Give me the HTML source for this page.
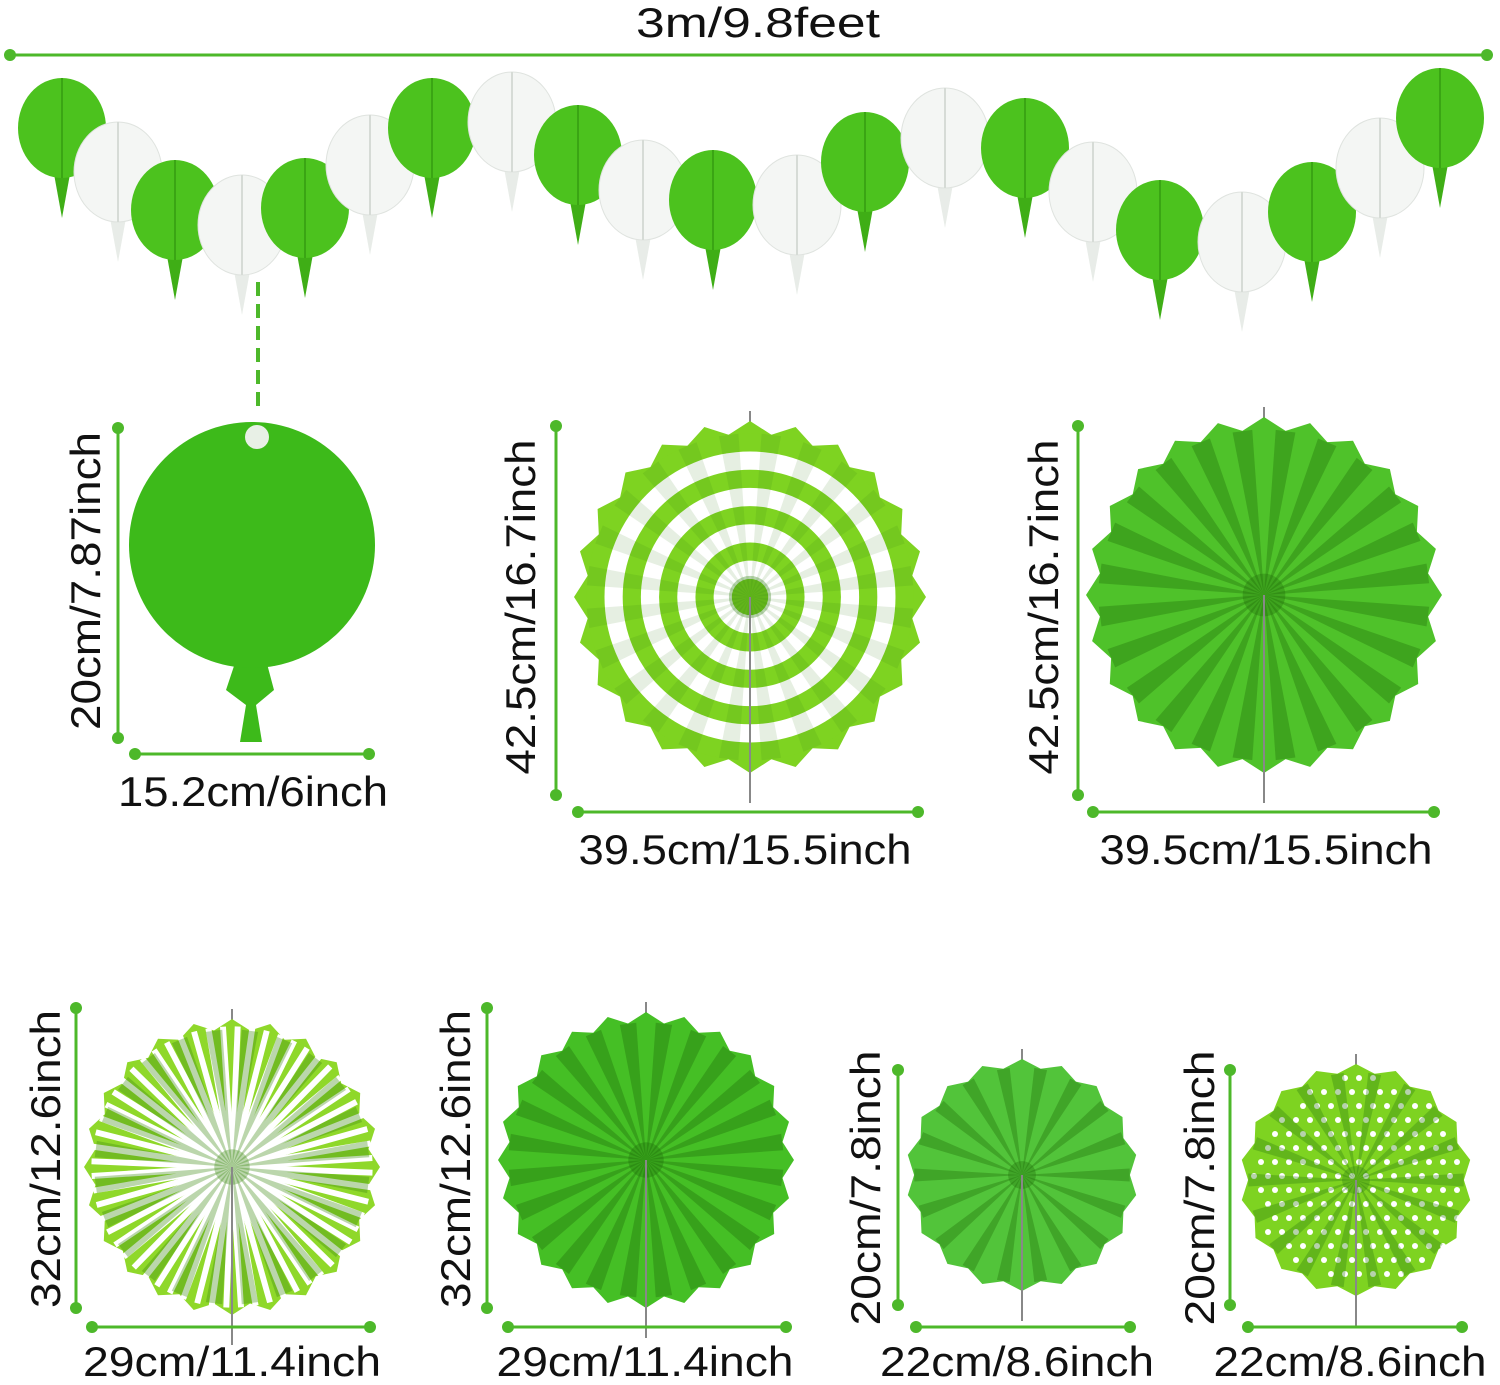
<!DOCTYPE html>
<html><head><meta charset="utf-8">
<style>
html,body{margin:0;padding:0;background:#fff;}
svg{display:block;}
text{font-family:"Liberation Sans","DejaVu Sans",sans-serif;fill:#111;font-size:42px;}
</style></head>
<body>
<svg id="s" width="1500" height="1385" viewBox="0 0 1500 1385" xmlns="http://www.w3.org/2000/svg">
<g id="g"></g>
<text x="758" y="37" text-anchor="middle" textLength="244" lengthAdjust="spacingAndGlyphs">3m/9.8feet</text>
<text x="253" y="806" text-anchor="middle" textLength="270" lengthAdjust="spacingAndGlyphs">15.2cm/6inch</text>
<text x="745" y="864" text-anchor="middle" textLength="333" lengthAdjust="spacingAndGlyphs">39.5cm/15.5inch</text>
<text x="1266" y="864" text-anchor="middle" textLength="333" lengthAdjust="spacingAndGlyphs">39.5cm/15.5inch</text>
<text x="232" y="1376" text-anchor="middle" textLength="298" lengthAdjust="spacingAndGlyphs">29cm/11.4inch</text>
<text x="645" y="1376" text-anchor="middle" textLength="297" lengthAdjust="spacingAndGlyphs">29cm/11.4inch</text>
<text x="1017" y="1376" text-anchor="middle" textLength="274" lengthAdjust="spacingAndGlyphs">22cm/8.6inch</text>
<text x="1350" y="1376" text-anchor="middle" textLength="273" lengthAdjust="spacingAndGlyphs">22cm/8.6inch</text>
<text transform="translate(100,581) rotate(-90)" text-anchor="middle" textLength="298" lengthAdjust="spacingAndGlyphs">20cm/7.87inch</text>
<text transform="translate(535,607) rotate(-90)" text-anchor="middle" textLength="335" lengthAdjust="spacingAndGlyphs">42.5cm/16.7inch</text>
<text transform="translate(1058,607) rotate(-90)" text-anchor="middle" textLength="335" lengthAdjust="spacingAndGlyphs">42.5cm/16.7inch</text>
<text transform="translate(60,1159) rotate(-90)" text-anchor="middle" textLength="298" lengthAdjust="spacingAndGlyphs">32cm/12.6inch</text>
<text transform="translate(470,1159) rotate(-90)" text-anchor="middle" textLength="298" lengthAdjust="spacingAndGlyphs">32cm/12.6inch</text>
<text transform="translate(880,1188) rotate(-90)" text-anchor="middle" textLength="275" lengthAdjust="spacingAndGlyphs">20cm/7.8inch</text>
<text transform="translate(1214,1188) rotate(-90)" text-anchor="middle" textLength="275" lengthAdjust="spacingAndGlyphs">20cm/7.8inch</text>
</svg>
<script>
const g=document.getElementById('g');const NS='http://www.w3.org/2000/svg';
function el(t,a){const e=document.createElementNS(NS,t);for(const k in a)e.setAttribute(k,a[k]);g.appendChild(e);return e;}
const LC='#4db82a';
function hl(x1,x2,y){el('line',{x1,x2,y1:y,y2:y,stroke:LC,'stroke-width':3});el('circle',{cx:x1,cy:y,r:6,fill:LC});el('circle',{cx:x2,cy:y,r:6,fill:LC});}
function vl(x,y1,y2){el('line',{x1:x,x2:x,y1,y2,stroke:LC,'stroke-width':3});el('circle',{cx:x,cy:y1,r:6,fill:LC});el('circle',{cx:x,cy:y2,r:6,fill:LC});}
hl(10,1487,55);
const G='#4cc21e',W='#f4f6f4';
const gar=[[62,128,G],[118,172,W],[175,210,G],[242,225,W],[305,208,G],[370,165,W],[432,128,G],[512,122,W],[578,155,G],[643,190,W],[713,200,G],[797,205,W],[865,162,G],[945,138,W],[1025,148,G],[1093,192,W],[1160,230,G],[1242,242,W],[1312,212,G],[1380,168,W],[1440,118,G]];
gar.forEach(([x,y,c],i)=>{const r=50;
 el('path',{d:`M${x-8} ${y+r-4} L${x} ${y+r+40} L${x+8} ${y+r-4}Z`,fill:c==G?'#3fae16':'#e8ece8'});
 el('ellipse',{cx:x,cy:y,rx:44,ry:r,fill:c,stroke:c==W?'#dfe3df':'none'});
 el('line',{x1:x,y1:y-r,x2:x,y2:y+r,stroke:c==G?'#3aa514':'#d6dbd6','stroke-width':2});
});
el('line',{x1:258,x2:258,y1:282,y2:408,stroke:LC,'stroke-width':4,'stroke-dasharray':'14 8'});
el('path',{d:'M236 660 L226 690 L246 705 L240 742 L262 742 L256 705 L274 690 L266 660Z',fill:'#3dba1a'});
el('circle',{cx:252,cy:545,r:123,fill:'#3dba1a'});
el('circle',{cx:257,cy:437,r:12,fill:'#e8f0e6'});
vl(118,428,738);hl(135,369,754);
function fan(cx,cy,R,n,col,dark,type){
 let pts=[];for(let i=0;i<n*2;i++){const a=i*Math.PI/n-Math.PI/2;const r=i%2?R*0.93:R;pts.push((cx+r*Math.cos(a)).toFixed(1)+','+(cy+r*Math.sin(a)).toFixed(1));}
 el('line',{x1:cx,y1:cy-R-10,x2:cx,y2:cy+R+30,stroke:'#888','stroke-width':2});
 el('polygon',{points:pts.join(' '),fill:col});
 if(type=='rings'){for(let k=9;k>=1;k--){el('circle',{cx,cy,r:R*0.93*k/9,fill:k%2?'#7ed321':'#ffffff'});}}
 if(type=='stripes'){for(let k=0;k<60;k++){const a=k*Math.PI/30;el('line',{x1:cx,y1:cy,x2:cx+R*0.95*Math.cos(a+0.25),y2:cy+R*0.95*Math.sin(a+0.25),stroke:'#fff','stroke-width':R*0.04});}}
 if(type=='dots'){for(let y=cy-R;y<cy+R;y+=14)for(let x=cx-R;x<cx+R;x+=14){if(Math.hypot(x-cx,y-cy)<R*0.9)el('circle',{cx:x+((y/14|0)%2)*7,cy:y,r:3,fill:'#fff'});}}
 for(let i=0;i<n;i++){const a=(i+0.5)*Math.PI*2/n-Math.PI/2;
  el('path',{d:`M${cx} ${cy} L${cx+R*0.93*Math.cos(a-0.06)} ${cy+R*0.93*Math.sin(a-0.06)} L${cx+R*0.93*Math.cos(a+0.06)} ${cy+R*0.93*Math.sin(a+0.06)}Z`,fill:dark,opacity:type=='rings'?0.12:0.35});}
 el('circle',{cx,cy,r:R*0.12,fill:dark,opacity:0.35});
 el('line',{x1:cx,y1:cy,x2:cx,y2:cy+R+30,stroke:'#888','stroke-width':2});
}
fan(750,597,176,24,'#7ed321','#2f7d10','rings');
vl(556,426,795);hl(578,918,812);
fan(1264,595,178,24,'#4fc22a','#1f6d0a','plain');
vl(1078,426,795);hl(1093,1434,812);
fan(232,1167,148,24,'#8fd82a','#3b8a12','stripes');
vl(76,1008,1308);hl(92,370,1327);
fan(646,1160,148,24,'#45bf25','#1c6a0a','plain');
vl(487,1008,1308);hl(508,786,1327);
fan(1022,1175,116,18,'#52c43a','#1f6d0a','plain');
vl(898,1070,1305);hl(916,1130,1327);
fan(1356,1180,116,18,'#7ed321','#2f7d10','dots');
vl(1230,1070,1305);hl(1248,1462,1327);
</script>
</body></html>
